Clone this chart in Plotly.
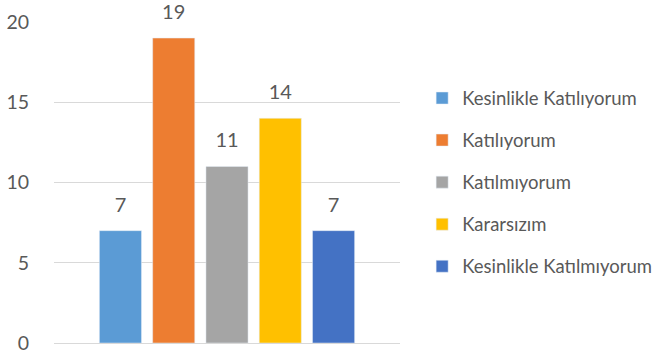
import plotly.graph_objects as go

# Survey responses: one bar per answer option
categories = ["Kesinlikle Katılıyorum", "Katılıyorum", "Katılmıyorum",
              "Kararsızım", "Kesinlikle Katılmıyorum"]
counts = [7, 19, 11, 14, 7]
colors = ["#5B9BD5", "#ED7D31", "#A5A5A5", "#FFC000", "#4472C4"]

FONT = "Lato, 'Open Sans', sans-serif"
TEXT_COLOR = "#595959"
GAP = 0.23

fig = go.Figure()
for i, (name, val, col) in enumerate(zip(categories, counts, colors)):
    fig.add_trace(go.Bar(
        x=[""], y=[val], name=name, marker_color=col,
        legendgroup=f"g{i}", offsetgroup=f"g{i}",
    ))
for i, (name, val) in enumerate(zip(categories, counts)):
    # value labels, grouped the same way as the bars
    fig.add_trace(go.Scatter(
        x=[""], y=[val], mode="markers+text", text=[str(val)],
        textposition="top center",
        marker=dict(size=21, opacity=0),
        textfont=dict(size=20, color=TEXT_COLOR, family=FONT),
        offsetgroup=f"g{i}", showlegend=False, hoverinfo="skip",
        cliponaxis=False,
    ))

fig.update_layout(
    width=664, height=359,
    margin=dict(l=54, r=264, t=22, b=16, autoexpand=False),
    paper_bgcolor="white", plot_bgcolor="white",
    barmode="group", bargap=GAP, bargroupgap=0.21,
    scattermode="group", scattergap=GAP,
    font=dict(family=FONT, color=TEXT_COLOR, size=18),
    legend=dict(
        x=1.064, y=0.5, xanchor="left", yanchor="middle",
        font=dict(size=18.5, color=TEXT_COLOR, family=FONT),
        tracegroupgap=15, traceorder="grouped", itemwidth=30,
    ),
    showlegend=True,
)
fig.update_yaxes(
    range=[0, 20], tickvals=[0, 5, 10, 15, 20],
    showgrid=True, gridcolor="#D9D9D9", gridwidth=1,
    zeroline=True, zerolinecolor="#D9D9D9", zerolinewidth=1,
    showline=False, ticks="", ticklabelstandoff=24, automargin=False,
    tickfont=dict(size=19.5, color=TEXT_COLOR, family=FONT),
)
fig.update_xaxes(showticklabels=False, showline=False, showgrid=False,
                 ticks="", automargin=False)

fig.write_html("out.html")
